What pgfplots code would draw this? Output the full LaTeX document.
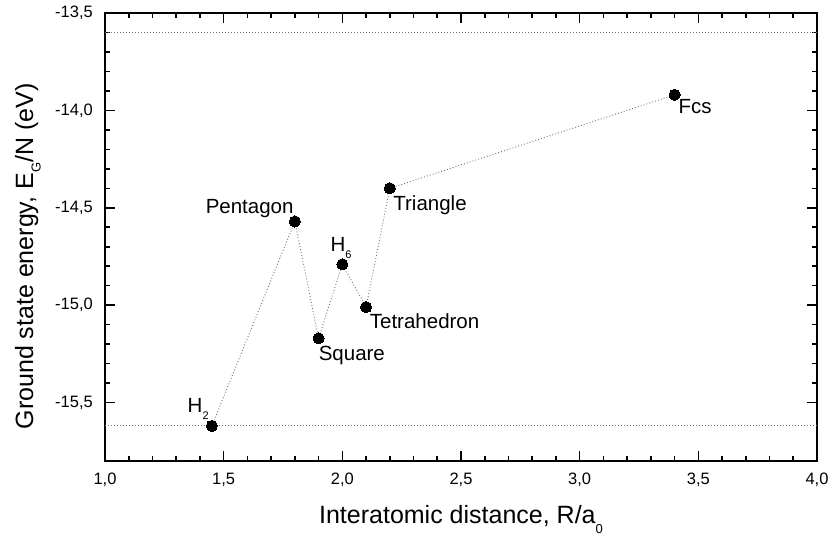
\documentclass[border=0pt]{standalone}
\usepackage{fontspec}
\setmainfont{Liberation Sans}
\usepackage{pgfplots}
\pgfplotsset{compat=1.18}

% dotted connector style used for the data line and the reference levels
\tikzset{dotline/.style={draw=black!55, line width=0.9pt, dash pattern=on 0.9pt off 2.1pt}}

\begin{document}
\begin{tikzpicture}
\begin{axis}[
  name=ax,
  scale only axis, width=712pt, height=448pt,
  xmin=1, xmax=4, ymin=-15.8, ymax=-13.5,
  xtick={1,1.5,2,2.5,3,3.5,4},
  ytick={-15.5,-15,-14.5,-14,-13.5},
  xticklabels={}, yticklabels={},
  minor x tick num=4, minor y tick num=4,
  tick align=inside,
  major tick length=10pt, minor tick length=5pt,
  axis line style={line width=2pt},
  tick style={black, line width=1.6pt},
  xlabel={Interatomic distance, R/a\raisebox{-0.4em}{\fontsize{13}{13}\selectfont 0}},
  ylabel={Ground state energy, E\raisebox{-0.3em}{\fontsize{13}{13}\selectfont G}/N (eV)},
  xlabel style={at={(axis description cs:0.5,-0.1406)}, anchor=base, font=\fontsize{25}{30}\selectfont},
  ylabel style={at={(axis description cs:-0.1011,0.4565)}, anchor=base, font=\fontsize{25}{30}\selectfont},
  clip=false,
]
% reference levels
\addplot[dotline] coordinates {(1,-13.6) (4,-13.6)};
\addplot[dotline] coordinates {(1,-15.62) (4,-15.62)};

% ground state energy per atom for each cluster geometry
\addplot[dotline, mark=*, mark size=5.6pt,
  mark options={solid, fill=black, draw=black, line width=0pt}] coordinates {
  (1.45,-15.62)
  (1.80,-14.57)
  (1.90,-15.17)
  (2.00,-14.79)
  (2.10,-15.01)
  (2.20,-14.40)
  (3.40,-13.92)
};

% tick numbers with decimal comma
\tikzset{
  xnum/.style={anchor=base, inner sep=0pt, yshift=-24pt, font=\fontsize{16.5}{19}\selectfont},
  ynum/.style={anchor=east, inner sep=0pt, xshift=-12pt, font=\fontsize{16.5}{19}\selectfont},
}
\node[xnum] at (axis cs:1.0,-15.8) {1,0};
\node[xnum] at (axis cs:1.5,-15.8) {1,5};
\node[xnum] at (axis cs:2.0,-15.8) {2,0};
\node[xnum] at (axis cs:2.5,-15.8) {2,5};
\node[xnum] at (axis cs:3.0,-15.8) {3,0};
\node[xnum] at (axis cs:3.5,-15.8) {3,5};
\node[xnum] at (axis cs:4.0,-15.8) {4,0};
\node[ynum] at (axis cs:1,-15.5) {-15,5};
\node[ynum] at (axis cs:1,-15.0) {-15,0};
\node[ynum] at (axis cs:1,-14.5) {-14,5};
\node[ynum] at (axis cs:1,-14.0) {-14,0};
\node[ynum] at (axis cs:1,-13.5) {-13,5};

% cluster names
\tikzset{lbl/.style={anchor=base west, inner sep=0pt, font=\fontsize{20.5}{24}\selectfont}}
\node[lbl, xshift=-24.3pt, yshift=13pt] at (axis cs:1.45,-15.62) {H\raisebox{-7pt}{\fontsize{11}{11}\selectfont 2}};
\node[lbl, xshift=-89.3pt, yshift=8.3pt] at (axis cs:1.80,-14.57) {Pentagon};
\node[lbl, xshift=0pt, yshift=-22pt] at (axis cs:1.90,-15.17) {Square};
\node[lbl, xshift=-12pt, yshift=13pt] at (axis cs:2.00,-14.79) {H\raisebox{-7pt}{\fontsize{11}{11}\selectfont 6}};
\node[lbl, xshift=3.6pt, yshift=-21.3pt] at (axis cs:2.10,-15.01) {Tetrahedron};
\node[lbl, xshift=3.4pt, yshift=-22.3pt] at (axis cs:2.20,-14.40) {Triangle};
\node[lbl, xshift=3.7pt, yshift=-19pt] at (axis cs:3.40,-13.92) {Fcs};
\end{axis}
\pgfresetboundingbox
\path[use as bounding box] ([xshift=-105pt,yshift=-76pt]ax.south west) rectangle ([xshift=12pt,yshift=13pt]ax.north east);
\end{tikzpicture}
\end{document}
